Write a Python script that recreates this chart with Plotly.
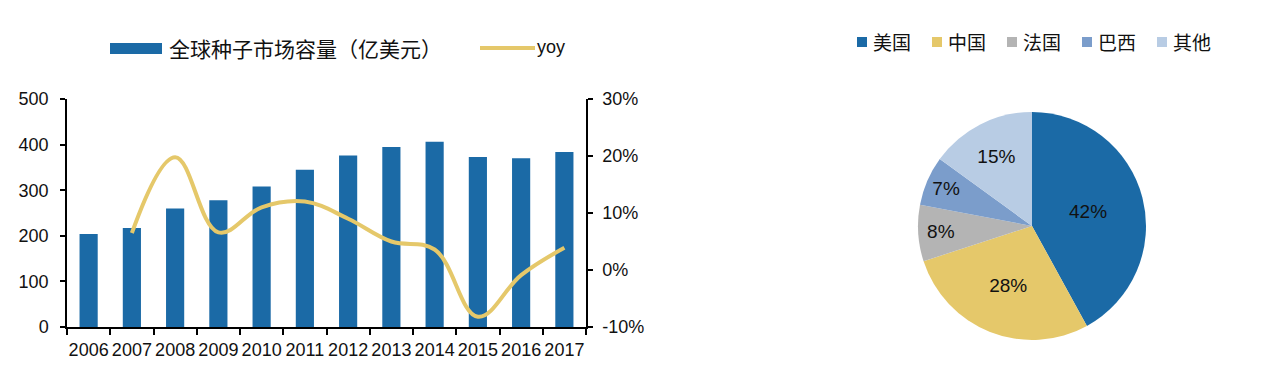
import plotly.graph_objects as go

# ---------------- data ----------------
years = ["2006", "2007", "2008", "2009", "2010", "2011", "2012", "2013", "2014", "2015", "2016", "2017"]
market_size = [204, 217, 260, 278, 308, 345, 376, 395, 406, 373, 370, 384]
yoy_pct = [None, 6.5, 19.8, 6.6, 11.0, 12.0, 9.0, 5.0, 3.6, -8.2, -0.9, 3.9]
bar_name = "全球种子市场容量（亿美元）"
line_name = "yoy"
left_ticks = [0, 100, 200, 300, 400, 500]
right_ticks = [-10, 0, 10, 20, 30]
right_tick_text = ["-10%", "0%", "10%", "20%", "30%"]

pie_labels = ["美国", "中国", "法国", "巴西", "其他"]
pie_values = [42, 28, 8, 7, 15]

# ---------------- style ----------------
PAGE_OFF = 8                      # default body margin of the html page
W, H = 1280 - PAGE_OFF, 376 - PAGE_OFF
BLUE = "#1B6AA6"
YELLOW = "#E5C86A"
pie_colors = ["#1B6AA6", "#E5C86A", "#B4B4B4", "#7B9DCB", "#B8CCE4"]
NUM_FONT = "Liberation Sans Narrow, Arial Narrow, Liberation Sans, Arial, sans-serif"
CJK_FONT = "Noto Sans CJK SC, sans-serif"
TXT = "#111111"


def px_x(x):
    return (x - PAGE_OFF) / W


def px_y(y):
    return 1 - (y - PAGE_OFF) / H


fig = go.Figure()

fig.add_trace(go.Bar(
    x=years, y=market_size, name=bar_name,
    marker=dict(color=BLUE, line=dict(width=0)),
    xaxis="x", yaxis="y", showlegend=False,
))

fig.add_trace(go.Scatter(
    x=years, y=yoy_pct, name=line_name, mode="lines",
    line=dict(color=YELLOW, width=4, shape="spline", smoothing=1.1),
    xaxis="x", yaxis="y2", showlegend=False, connectgaps=False,
))

fig.add_trace(go.Pie(
    labels=pie_labels, values=pie_values, sort=False, direction="clockwise",
    rotation=0,
    marker=dict(colors=pie_colors, line=dict(width=0)),
    textinfo="percent", texttemplate="%{percent:.0%}",
    textposition="inside", insidetextorientation="horizontal",
    textfont=dict(family=NUM_FONT, size=19, color=TXT),
    domain=dict(x=[px_x(918), px_x(1146)], y=[px_y(340), px_y(112)]),
    showlegend=False, hoverinfo="label+percent",
))

axis_line = dict(showline=True, linecolor="#000000", linewidth=1.5, ticks="outside",
                 tickcolor="#000000", tickwidth=1.5, showgrid=False, zeroline=False,
                 automargin=False)

fig.update_layout(
    width=W, height=H,
    margin=dict(l=0, r=0, t=0, b=0),
    paper_bgcolor="white", plot_bgcolor="white",
    bargap=0.58,
    xaxis=dict(domain=[px_x(67), px_x(586)], anchor="y", type="category",
               tickson="boundaries", ticklen=6, tickangle=0,
               tickfont=dict(family=NUM_FONT, size=18, color=TXT),
               ticklabelstandoff=6,
               **axis_line),
    yaxis=dict(domain=[px_y(327), px_y(99)], anchor="x", range=[0, 500],
               tickvals=left_ticks, ticklen=5,
               tickfont=dict(family=NUM_FONT, size=18, color=TXT),
               ticklabelstandoff=8,
               **axis_line),
    yaxis2=dict(overlaying="y", side="right", anchor="x", range=[-10, 30],
                tickvals=right_ticks, ticktext=right_tick_text, ticklen=5,
                tickfont=dict(family=NUM_FONT, size=18, color=TXT),
                ticklabelstandoff=6,
                **axis_line),
)

# ---- left legend (drawn manually to match the wide key shapes) ----
shapes = [
    dict(type="rect", xref="paper", yref="paper",
         x0=px_x(110), x1=px_x(162), y0=px_y(54), y1=px_y(43),
         fillcolor=BLUE, line=dict(width=0)),
    dict(type="line", xref="paper", yref="paper",
         x0=px_x(480), x1=px_x(535), y0=px_y(48), y1=px_y(48),
         line=dict(color=YELLOW, width=4)),
]
annotations = [
    dict(text=bar_name, xref="paper", yref="paper", x=px_x(167), y=px_y(48),
         xanchor="left", yanchor="middle", showarrow=False,
         font=dict(family=CJK_FONT, size=21, color=TXT)),
    dict(text=line_name, xref="paper", yref="paper", x=px_x(535), y=px_y(47),
         xanchor="left", yanchor="middle", showarrow=False,
         font=dict(family=NUM_FONT, size=18, color=TXT)),
]

# ---- pie legend ----
for i, (lab, col) in enumerate(zip(pie_labels, pie_colors)):
    x0 = 857 + 75 * i
    shapes.append(dict(type="rect", xref="paper", yref="paper",
                       x0=px_x(x0), x1=px_x(x0 + 10), y0=px_y(47), y1=px_y(37),
                       fillcolor=col, line=dict(width=0)))
    annotations.append(dict(text=lab, xref="paper", yref="paper",
                            x=px_x(x0 + 14), y=px_y(42), xanchor="left", yanchor="middle",
                            showarrow=False,
                            font=dict(family=CJK_FONT, size=19, color=TXT)))

fig.update_layout(shapes=shapes, annotations=annotations)

fig.write_html("out.html")
